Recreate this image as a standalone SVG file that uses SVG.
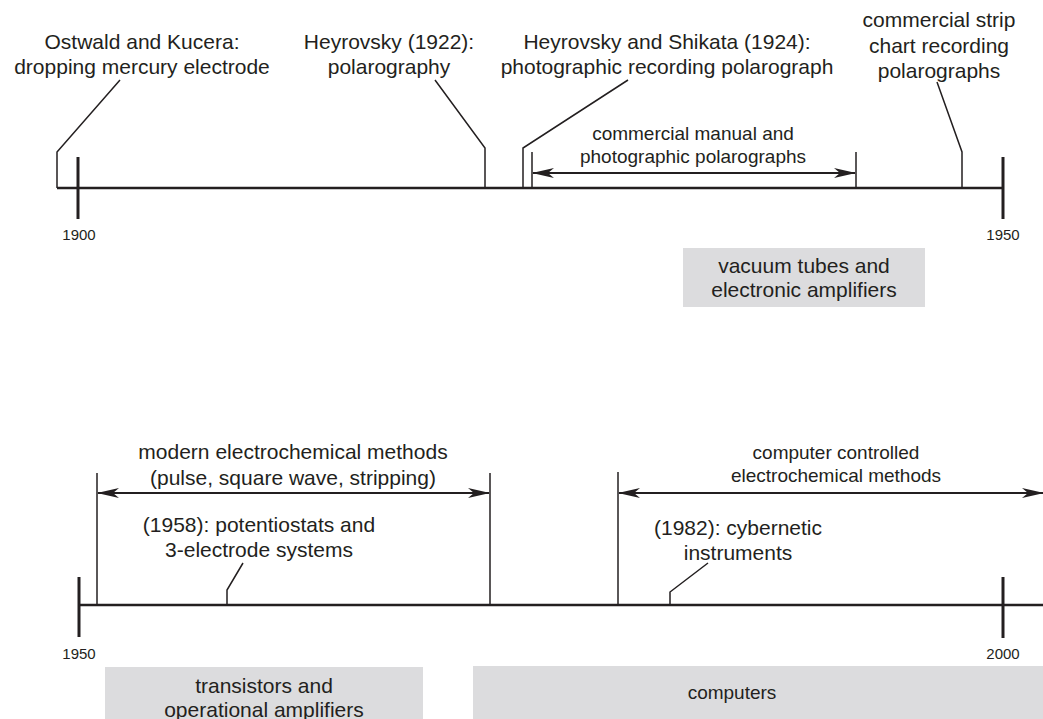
<svg xmlns="http://www.w3.org/2000/svg" width="1043" height="719" viewBox="0 0 1043 719">
<defs>
<marker id="ah" viewBox="0 0 22 10" refX="21" refY="5" markerWidth="22" markerHeight="10" markerUnits="userSpaceOnUse" orient="auto-start-reverse">
<path d="M0,0 L22,5 L0,10 L6,5 Z" fill="#231f20"/>
</marker>
<style>
text{font-family:"Liberation Sans",Arial,sans-serif;fill:#231f20;text-anchor:middle}
.l{font-size:21px}
.m{font-size:19px}
.s{font-size:15px}
.axis{stroke:#231f20;stroke-width:2.6;fill:none}
.tick{stroke:#231f20;stroke-width:3;fill:none}
.lead{stroke:#231f20;stroke-width:1.5;fill:none}
.arr{stroke:#231f20;stroke-width:1.8;fill:none;marker-start:url(#ah);marker-end:url(#ah)}
.box{fill:#dcdcde}
</style>
</defs>
<rect width="1043" height="719" fill="#fff"/>
<g id="axes">
<line class="axis" x1="57" y1="188" x2="1003" y2="188"/>
<line class="tick" x1="78" y1="157" x2="78" y2="219"/>
<line class="tick" x1="1003" y1="157" x2="1003" y2="219"/>
<text class="s" x="79" y="240">1900</text>
<text class="s" x="1003" y="240">1950</text>
<line class="axis" x1="78" y1="605" x2="1043" y2="605"/>
<line class="tick" x1="79" y1="577" x2="79" y2="637"/>
<line class="tick" x1="1003" y1="577" x2="1003" y2="638"/>
<text class="s" x="79" y="659">1950</text>
<text class="s" x="1003" y="659">2000</text>
</g>
<g id="ostwald">
<text class="l" x="142" y="49">Ostwald and Kucera:</text>
<text class="l" x="142" y="74">dropping mercury electrode</text>
</g>
<g id="heyrovsky1922">
<text class="l" x="389" y="49">Heyrovsky (1922):</text>
<text class="l" x="389" y="74">polarography</text>
</g>
<g id="heyrovskyshikata">
<text class="l" x="667" y="49">Heyrovsky and Shikata (1924):</text>
<text class="l" x="667" y="74">photographic recording polarograph</text>
</g>
<g id="strip">
<text class="l" x="939" y="27">commercial strip</text>
<text class="l" x="939" y="53">chart recording</text>
<text class="l" x="939" y="78">polarographs</text>
</g>
<g id="manual">
<text class="m" x="693" y="140">commercial manual and</text>
<text class="m" x="693" y="163">photographic polarographs</text>
</g>
<g id="vacuum">
<rect class="box" x="683" y="248" width="242" height="59"/>
<text class="l" x="804" y="273">vacuum tubes and</text>
<text class="l" x="804" y="297">electronic amplifiers</text>
</g>
<g id="modern">
<text class="l" x="293" y="459">modern electrochemical methods</text>
<text class="l" x="293" y="485">(pulse, square wave, stripping)</text>
</g>
<g id="potentiostats">
<text class="l" x="259" y="532">(1958): potentiostats and</text>
<text class="l" x="259" y="557">3-electrode systems</text>
</g>
<g id="computercontrolled">
<text class="m" x="836" y="459">computer controlled</text>
<text class="m" x="836" y="482">electrochemical methods</text>
</g>
<g id="cybernetic">
<text class="l" x="738" y="535">(1982): cybernetic</text>
<text class="l" x="738" y="560">instruments</text>
</g>
<g id="transistors">
<rect class="box" x="105" y="667" width="318" height="52"/>
<text class="l" x="264" y="693">transistors and</text>
<text class="l" x="264" y="717">operational amplifiers</text>
</g>
<g id="computers">
<rect class="box" x="473" y="666" width="570" height="53"/>
<text class="m" x="732" y="699">computers</text>
</g>
<g id="connectors">
<polyline class="lead" points="120,80 57,152 57,188"/>
<polyline class="lead" points="435,80 485,148 485,188"/>
<polyline class="lead" points="628,80 523,148 523,188"/>
<polyline class="lead" points="937,82 962,152 962,188"/>
<line class="lead" x1="532" y1="152" x2="532" y2="188"/>
<line class="lead" x1="856" y1="152" x2="856" y2="188"/>
<line class="arr" x1="533" y1="173" x2="855" y2="173"/>
<polyline class="lead" points="243,563 227,590 227,605"/>
<polyline class="lead" points="708,563 670,592 670,605"/>
<line class="lead" x1="97" y1="473" x2="97" y2="605"/>
<line class="lead" x1="490" y1="473" x2="490" y2="605"/>
<line class="arr" x1="98" y1="493" x2="489" y2="493"/>
<line class="lead" x1="618" y1="472" x2="618" y2="605"/>
<line class="arr" x1="619" y1="493" x2="1043" y2="493"/>
</g>
</svg>
